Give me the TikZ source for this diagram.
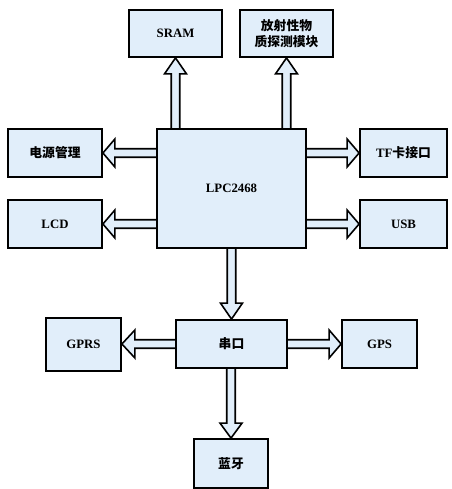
\documentclass[tikz,border=0pt]{standalone}
\usepackage{fontspec}
\setmainfont{Liberation Serif}
\newfontfamily\cjk{Noto Sans CJK SC}
\usetikzlibrary{calc,backgrounds}
\definecolor{boxfill}{RGB}{225,238,250}
\tikzset{
  blk/.style={draw=black, line width=1.8pt, fill=boxfill,
    font=\bfseries\fontsize{12.8}{15.5}\selectfont, align=center, inner sep=0pt},
  fat/.style={draw=black, line width=1.6pt, fill=boxfill, line join=miter}
}
\newcommand\fatarrow[4]{%
  \coordinate (faA) at (#1);
  \coordinate (faB) at (#2);
  \coordinate (faH) at ($(faB)!#4!(faA)$);
  \draw[fat] ($(faA)!4.25pt!90:(faB)$) -- ($(faH)!4.25pt!90:(faB)$)
    -- ($(faH)!#3!90:(faB)$) -- (faB) -- ($(faH)!#3!-90:(faB)$)
    -- ($(faH)!4.25pt!-90:(faB)$) -- ($(faA)!4.25pt!-90:(faB)$);
}
\begin{document}
\begin{tikzpicture}[x=1pt,y=-1pt]
\useasboundingbox (0,0) rectangle (451,489);
\node[blk, minimum width=93pt, minimum height=47pt] (sram) at (175.5,33.5) {SRAM};
\node[blk, minimum width=93pt, minimum height=47pt] (rad) at (286.5,33.5) {\cjk 放射性物\\\cjk 质探测模块};
\node[blk, minimum width=149pt, minimum height=119pt] (lpc) at (231.5,188.5) {LPC2468};
\node[blk, minimum width=94pt, minimum height=48pt] (pwr) at (55,153) {\cjk 电源管理};
\node[blk, minimum width=94pt, minimum height=48pt] (lcd) at (55,224) {LCD};
\node[blk, minimum width=87pt, minimum height=48pt] (tf) at (403.5,153) {TF\cjk 卡接口};
\node[blk, minimum width=87pt, minimum height=48pt] (usb) at (403.5,224) {USB};
\node[blk, minimum width=111pt, minimum height=48pt] (uart) at (231.5,344) {\cjk 串口};
\node[blk, minimum width=75pt, minimum height=53pt] (gprs) at (83.5,344.5) {GPRS};
\node[blk, minimum width=75pt, minimum height=48pt] (gps) at (379.5,344) {GPS};
\node[blk, minimum width=74pt, minimum height=49pt] (bt) at (231,463.5) {\cjk 蓝牙};
\begin{pgfonlayer}{background}
\fatarrow{lpc.north -| sram.south}{sram.south}{11pt}{16pt}
\fatarrow{lpc.north -| rad.south}{rad.south}{11pt}{16pt}
\fatarrow{lpc.west |- pwr.east}{pwr.east}{14pt}{12pt}
\fatarrow{lpc.west |- lcd.east}{lcd.east}{14pt}{12pt}
\fatarrow{lpc.east |- tf.west}{tf.west}{14pt}{12pt}
\fatarrow{lpc.east |- usb.west}{usb.west}{14pt}{12pt}
\fatarrow{lpc.south}{uart.north}{11pt}{16pt}
\fatarrow{uart.west}{gprs.east |- uart.west}{14pt}{13pt}
\fatarrow{uart.east}{gps.west |- uart.east}{14pt}{12pt}
\fatarrow{uart.south -| bt.north}{bt.north}{11pt}{15pt}
\end{pgfonlayer}
\end{tikzpicture}
\end{document}
